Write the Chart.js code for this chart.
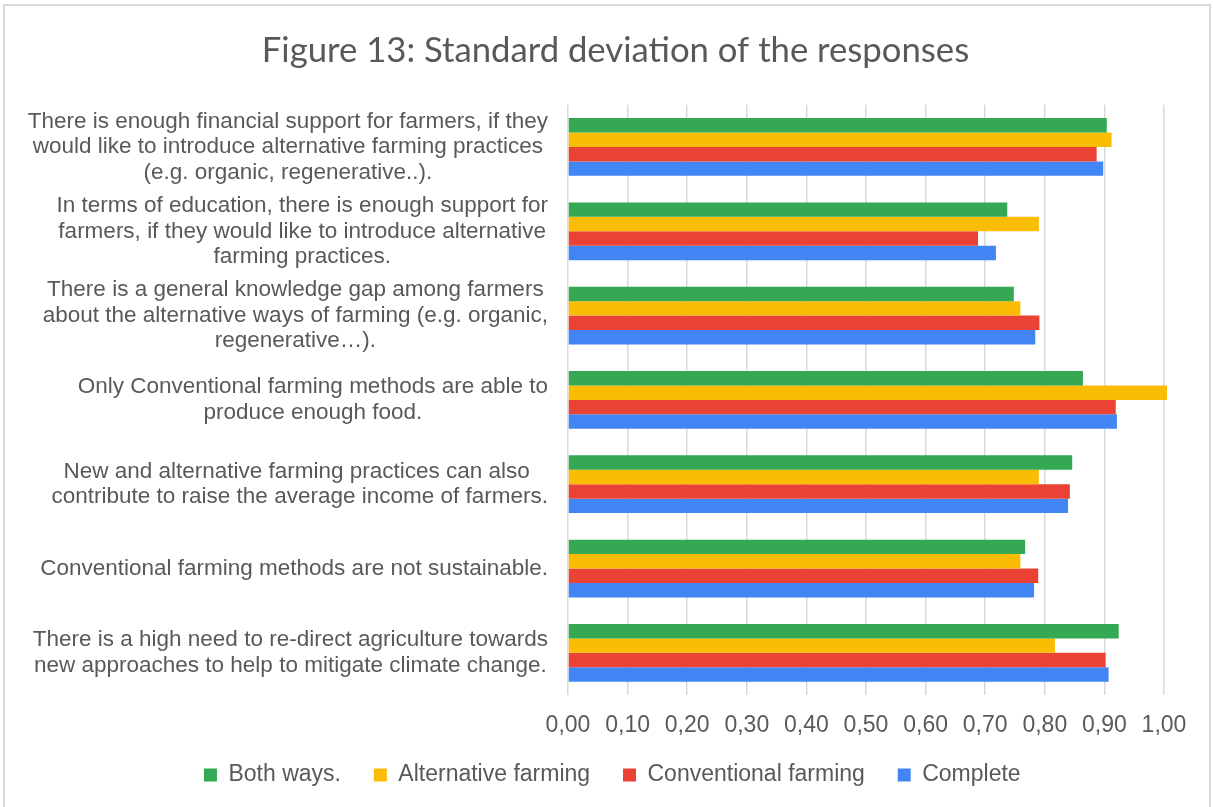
<!DOCTYPE html>
<html>
<head>
<meta charset="utf-8">
<title>Figure 13: Standard deviation of the responses</title>
<script src="https://cdn.jsdelivr.net/npm/chart.js@4"></script>
<style>
  html, body { margin: 0; padding: 0; background: #fff; }
  #wrap { position: relative; width: 1213px; height: 807px; overflow: hidden; }
  #frame { position: absolute; left: 3px; top: 4px; right: 2px; bottom: -10px; border: 2px solid #d9d9d9; pointer-events: none; }
  canvas { position: absolute; left: 0; top: 0; }
</style>
</head>
<body>
<div id="wrap">
  <canvas id="chart" width="1213" height="807"></canvas>
  <div id="frame"></div>
</div>
<script>
// statements, top to bottom as shown
const categories = [
  ['There is enough financial support for farmers, if they', 'would like to introduce alternative farming practices', '(e.g. organic, regenerative..).'],
  ['In terms of education, there is enough support for', 'farmers, if they would like to introduce alternative', 'farming practices.'],
  ['There is a general knowledge gap among farmers', 'about the alternative ways of farming (e.g. organic,', 'regenerative…).'],
  ['Only Conventional farming methods are able to', 'produce enough food.'],
  ['New and alternative farming practices can also ', 'contribute to raise the average income of farmers.'],
  ['Conventional farming methods are not sustainable.'],
  ['There is a high need to re-direct agriculture towards', 'new approaches to help to mitigate climate change.']
];

const bothWays = [0.904, 0.737, 0.748, 0.864, 0.846, 0.767, 0.924];
const alternativeFarming = [0.912, 0.790, 0.759, 1.005, 0.790, 0.759, 0.817];
const conventionalFarming = [0.887, 0.688, 0.791, 0.919, 0.842, 0.789, 0.902];
const complete = [0.898, 0.718, 0.784, 0.921, 0.839, 0.782, 0.907];

const seriesNames = ['Both ways.', 'Alternative farming', 'Conventional farming', 'Complete'];
const seriesColors = ['#34a853', '#fbbc04', '#ea4335', '#4285f4'];

const textColor = '#595959';
const arial = '"Liberation Sans", Arial, sans-serif';

// category labels: lines centred in a block that is right-aligned to the axis
const categoryLabels = {
  id: 'categoryLabels',
  afterDraw(chart) {
    const scale = chart.scales.y;
    const ctx = chart.ctx;
    const right = chart.chartArea.left - 20;
    const lineGap = 25.5;
    ctx.save();
    ctx.font = '22.5px ' + arial;
    ctx.fillStyle = textColor;
    ctx.textAlign = 'center';
    ctx.textBaseline = 'middle';
    categories.forEach((lines, i) => {
      const y = scale.getPixelForTick(i);
      const widest = Math.max(...lines.map(l => ctx.measureText(l).width));
      const cx = right - widest / 2;
      lines.forEach((line, j) => {
        ctx.fillText(line, cx, y + (j - (lines.length - 1) / 2) * lineGap);
      });
    });
    ctx.restore();
  }
};

const values = [bothWays, alternativeFarming, conventionalFarming, complete];

new Chart(document.getElementById('chart'), {
  type: 'bar',
  data: {
    labels: categories.map(c => c.join(' ')),
    datasets: values.map((v, i) => ({
      label: seriesNames[i],
      data: v,
      backgroundColor: seriesColors[i],
      borderWidth: 0,
      categoryPercentage: 0.685,
      barPercentage: 1,
      clip: false
    }))
  },
  options: {
    indexAxis: 'y',
    responsive: false,
    animation: false,
    layout: { padding: { left: 18, right: 0, top: 0, bottom: 10.5 } },
    scales: {
      x: {
        min: 0,
        max: 1,
        grid: { color: '#d9d9d9', lineWidth: 1.5, drawTicks: false },
        border: { display: false },
        ticks: {
          stepSize: 0.1,
          padding: 17,
          color: textColor,
          font: { family: arial, size: 23 },
          callback: v => v.toFixed(2).replace('.', ',')
        },
        afterFit: s => { s.height = 42; }
      },
      y: {
        grid: { display: false },
        border: { display: false },
        ticks: { display: false },
        afterFit: s => { s.width = 550; }
      },
      y2: {
        type: 'category',
        position: 'right',
        grid: { display: false },
        border: { display: false },
        ticks: { display: false },
        afterFit: s => { s.width = 49; }
      }
    },
    plugins: {
      title: {
        display: true,
        text: 'Figure 13: Standard deviation of the responses',
        color: textColor,
        font: { family: 'Lato, "Open Sans", sans-serif', size: 34.7, weight: 'normal' },
        padding: { top: 29.5, bottom: 33.7 }
      },
      legend: {
        position: 'bottom',
        labels: {
          boxWidth: 13,
          boxHeight: 13,
          padding: 26.5,
          color: textColor,
          font: { family: arial, size: 23 },
          // a little extra room after each entry, as in the original legend
          generateLabels: chart =>
            Chart.defaults.plugins.legend.labels.generateLabels(chart)
              .map(item => Object.assign(item, { text: item.text + ' ' }))
        }
      },
      tooltip: { enabled: false }
    }
  },
  plugins: [categoryLabels]
});
</script>
</body>
</html>
